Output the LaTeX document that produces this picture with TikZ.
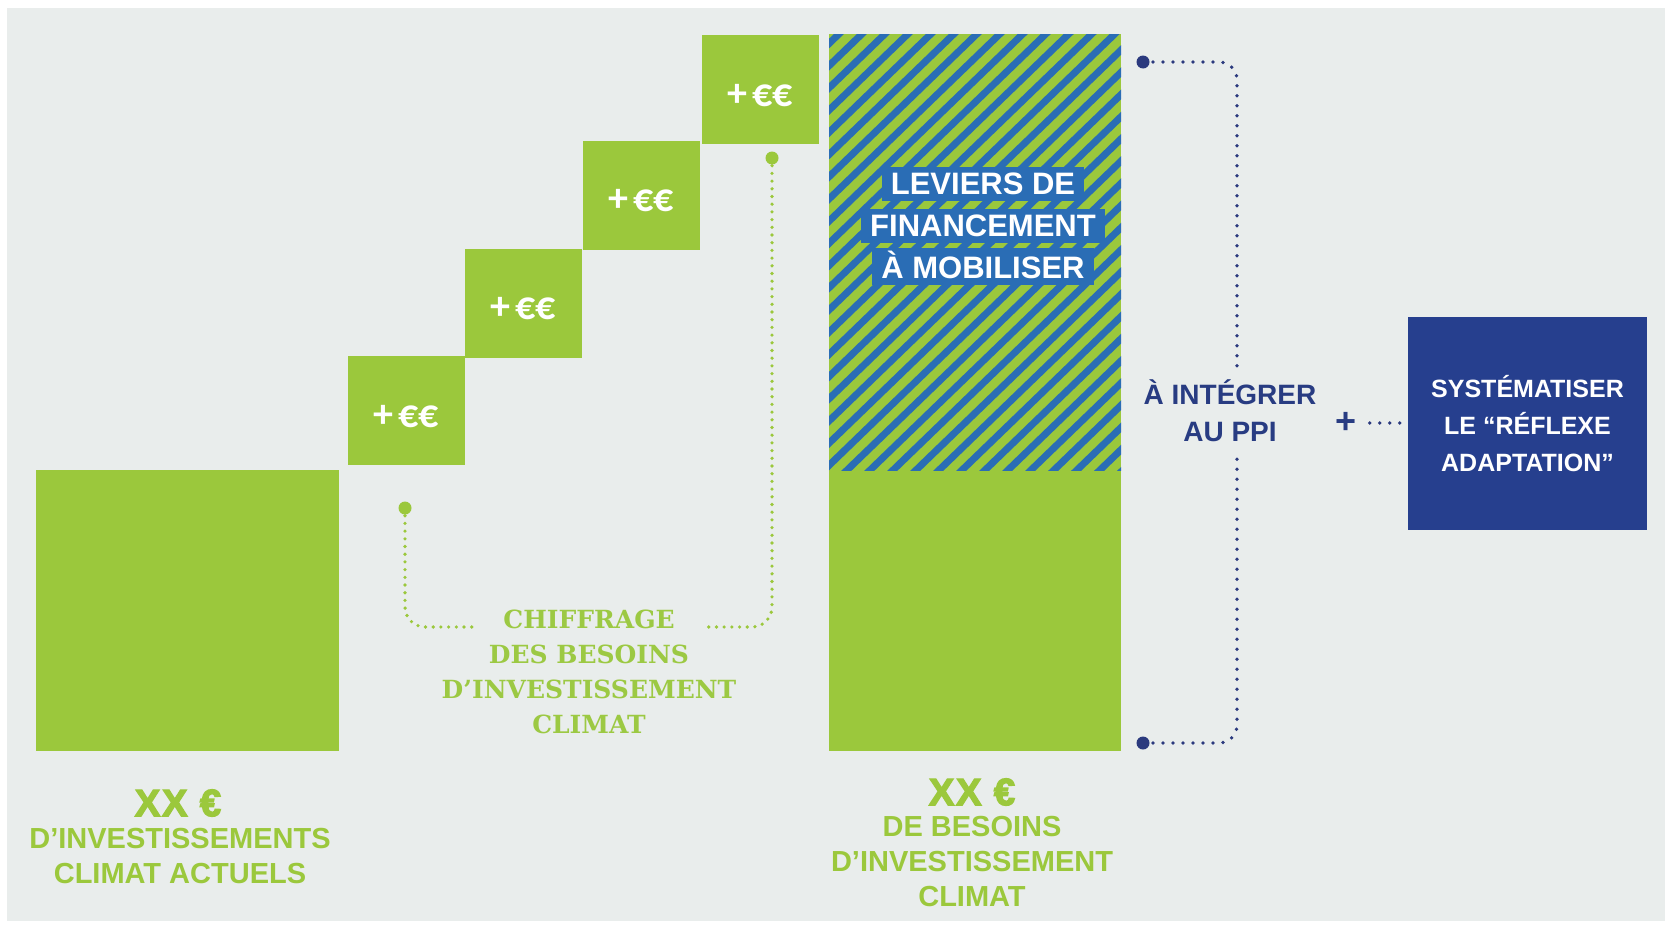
\documentclass[tikz,border=0pt]{standalone}
\usepackage{fontspec}
\setmainfont{Liberation Sans}
\newfontfamily\carl{Carlito}
\newfontfamily\slab{DejaVu Serif}
\newfontfamily\heavy{Liberation Sans}[BoldFeatures={FakeBold=3.5,LetterSpace=5}]
\definecolor{bg}{HTML}{E9EDEC}
\definecolor{vert}{HTML}{9BC83C}
\definecolor{vtxt}{HTML}{9CC943}
\definecolor{rayure}{HTML}{2A6DB5}
\definecolor{marine}{HTML}{263F8E}
\definecolor{marinetxt}{HTML}{283C82}
\definecolor{pointbleu}{HTML}{2B3A7E}
\tikzset{
  gbox/.style={fill=vert, draw=none, minimum width=117pt, minimum height=109pt, inner sep=0pt, text=white, text height=34pt, font=\carl\bfseries\fontsize{40}{40}\selectfont},
  surligne/.style={fill=rayure, text=white, font=\bfseries\fontsize{31}{31}\selectfont, inner xsep=9pt, inner ysep=0pt, text height=27pt, text depth=7pt, anchor=base},
  gros/.style={text=vert, font=\heavy\bfseries\fontsize{38}{38}\selectfont, inner sep=0pt},
  legende/.style={text=vert, align=center, font=\bfseries\fontsize{29}{35}\selectfont, inner sep=0pt},
  bluedots/.style={draw=pointbleu, line width=3.8pt, line cap=round, dash pattern=on 0pt off 10pt},
  greendots/.style={draw=vert, line width=3.6pt, line cap=round, dash pattern=on 0pt off 7.7pt}
}
\begin{document}
\begin{tikzpicture}[x=1pt,y=-1pt]
\useasboundingbox (0,0) rectangle (1665,924);
\fill[white] (0,0) rectangle (1665,924);
\fill[bg] (7,8) rectangle (1665,921);

% left block
\node[fill=vert, minimum width=303pt, minimum height=281pt, inner sep=0pt] (actuel) at (187.5,610.5) {};

% steps
\node[gbox] (s1) at (406,410.5) {+\hspace{5pt}€€};
\node[gbox] (s2) at (523.5,303) {+\hspace{5pt}€€};
\node[gbox] (s3) at (641.5,195) {+\hspace{5pt}€€};
\node[gbox] (s4) at (760,89.5) {+\hspace{5pt}€€};

% tall block
\node[fill=vert, minimum width=292pt, minimum height=717pt, inner sep=0pt] (besoin) at (975,392.5) {};
\begin{scope}
  \clip (829,34) rectangle (1121,470);
  \foreach \k in {0,...,36} {
    \pgfmathsetmacro{\cc}{800+22.2*\k}
    \draw[rayure, line width=7pt] (800,{\cc-0.966*800}) -- (1150,{\cc-0.966*1150});
  }
\end{scope}
\node[surligne] (lev1) at (983,194) {LEVIERS DE};
\node[surligne] (lev2) at (983,236) {FINANCEMENT};
\node[surligne, text height=30pt] (lev3) at (983,278) {À MOBILISER};

% right box
\node[fill=marine, minimum width=239pt, minimum height=213pt, inner sep=0pt, align=center, text=white, font=\bfseries\fontsize{25}{37}\selectfont] (syst) at (1527.5,423.5) {SYSTÉMATISER\\LE “RÉFLEXE\\ADAPTATION”};

\node[text=marinetxt, align=center, inner sep=0pt, font=\bfseries\fontsize{28}{37}\selectfont] (integ) at (1230,411) {À INTÉGRER\\AU PPI};
\node[text=marinetxt, inner sep=1pt, font=\bfseries\fontsize{36}{36}\selectfont] (plus) at (1346,423) {+};
\draw[bluedots, shorten <=12pt] (plus.east) -- (plus.east -| syst.west);

% blue brackets
\coordinate (bT) at (1143,62);
\coordinate (bTe) at (1237,367);
\coordinate (bB) at (1143,743);
\coordinate (bBe) at (1237,457);
\draw[bluedots, rounded corners=18pt] (bT) -| (bTe);
\draw[bluedots, rounded corners=18pt] (bB) -| (bBe);
\fill[pointbleu] (bT) circle[radius=6.5pt];
\fill[pointbleu] (bB) circle[radius=6.5pt];

% green connectors
\coordinate (gA) at (405,508);
\coordinate (gAe) at (477,627);
\coordinate (gB) at (772,158);
\coordinate (gBe) at (707,627);
\draw[greendots, rounded corners=20pt] (gA) |- (gAe);
\draw[greendots, rounded corners=20pt] (gB) |- (gBe);
\fill[vert] (gA) circle[radius=6.5pt];
\fill[vert] (gB) circle[radius=6.5pt];

\node[text=vtxt, align=center, inner sep=0pt, font=\slab\bfseries\fontsize{25}{35}\selectfont] (chif) at (589,671.4) {CHIFFRAGE\\DES BESOINS\\D’INVESTISSEMENT\\CLIMAT};

% labels
\node[gros] (xx1) at (178,803) {XX €};
\node[legende] (lab1) at (180,855.6) {D’INVESTISSEMENTS\\CLIMAT ACTUELS};
\node[gros] (xx2) at (972,792) {XX €};
\node[legende] (lab2) at (972,862) {DE BESOINS\\D’INVESTISSEMENT\\CLIMAT};
\end{tikzpicture}
\end{document}
